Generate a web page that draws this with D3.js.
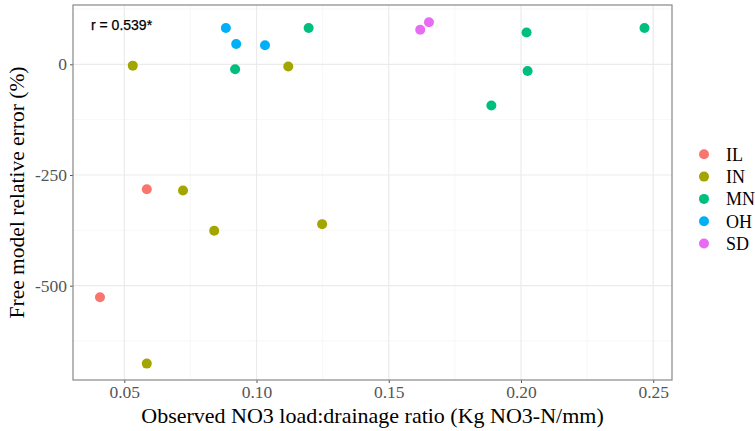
<!DOCTYPE html>
<html><head><meta charset="utf-8">
<script src="https://cdn.jsdelivr.net/npm/d3@7"></script>
<style>body{margin:0;background:#fff}</style>
</head><body><svg id="c" width="755" height="431"></svg>
<script>
const states = ["IL","IN","MN","OH","SD"];
const colors = ["#F8766D","#A3A500","#00BF7D","#00B0F6","#E76BF3"];
const ptState = ["IL","IL","IN","IN","IN","IN","IN","IN","OH","OH","OH","MN","MN","MN","MN","MN","MN","SD","SD"];
const ptX = [0.0408,0.0585,0.0532,0.0722,0.112,0.084,0.1248,0.0585,0.0884,0.0923,0.1032,0.0919,0.1197,0.2021,0.2025,0.1888,0.2467,0.1619,0.1652];
const ptY = [-526,-282,-3,-285,-5,-376,-361,-676,82,46,43,-11,82,72,-15,-93,82,78,95];
const xTicks = [0.05,0.10,0.15,0.20,0.25];
const yTicks = [0,-250,-500];
const xMinor = [0.075,0.125,0.175,0.225];
const yMinor = [125,-125,-375,-625];
const annotation = "r = 0.539*";

const L=73,R=672,T=5,B=380;
const svg=d3.select("#c");
const x=d3.scaleLinear().domain([0.0306,0.2571]).range([L,R]);
const y=d3.scaleLinear().domain([-713,134]).range([B,T]);
const col=d3.scaleOrdinal().domain(states).range(colors);

svg.append("rect").attr("x",L).attr("y",T).attr("width",R-L).attr("height",B-T).attr("fill","#fff");
const g=svg.append("g");
g.selectAll(".xm").data(xMinor).join("line").attr("x1",d=>x(d)).attr("x2",d=>x(d)).attr("y1",T).attr("y2",B).attr("stroke","#F5F5F5").attr("stroke-width",0.8);
g.selectAll(".ym").data(yMinor).join("line").attr("y1",d=>y(d)).attr("y2",d=>y(d)).attr("x1",L).attr("x2",R).attr("stroke","#F5F5F5").attr("stroke-width",0.8);
g.selectAll(".xg").data(xTicks).join("line").attr("x1",d=>x(d)).attr("x2",d=>x(d)).attr("y1",T).attr("y2",B).attr("stroke","#EBEBEB").attr("stroke-width",1.2);
g.selectAll(".yg").data(yTicks).join("line").attr("y1",d=>y(d)).attr("y2",d=>y(d)).attr("x1",L).attr("x2",R).attr("stroke","#EBEBEB").attr("stroke-width",1.2);

const xa=svg.append("g").attr("transform",`translate(0,${B})`)
  .call(d3.axisBottom(x).tickValues(xTicks).tickFormat(d3.format(".2f")).tickSize(3).tickPadding(3));
const ya=svg.append("g").attr("transform",`translate(${L},0)`)
  .call(d3.axisLeft(y).tickValues(yTicks).tickFormat(d=>d).tickSize(3).tickPadding(3));
[xa,ya].forEach(a=>{a.select(".domain").remove();
  a.selectAll("line").attr("stroke","#555");
  a.selectAll("text").attr("fill","#555").attr("font-family","Liberation Serif").attr("font-size",17.5);});

svg.append("rect").attr("x",L).attr("y",T).attr("width",R-L).attr("height",B-T).attr("fill","none").attr("stroke","#888").attr("stroke-width",1.2);

const pts=ptX.map((v,i)=>({x:v,y:ptY[i],s:ptState[i]}));
svg.append("g").selectAll("circle").data(pts).join("circle")
  .attr("cx",d=>x(d.x)).attr("cy",d=>y(d.y)).attr("r",5).attr("fill",d=>col(d.s));

svg.append("text").attr("x",91).attr("y",30).attr("font-family","Liberation Sans").attr("font-size",14).attr("fill","#000").attr("stroke","#000").attr("stroke-width",0.25).text(annotation);

svg.append("text").attr("x",(L+R)/2).attr("y",423).attr("text-anchor","middle").attr("font-family","Liberation Serif").attr("font-size",22).attr("fill","#000").text("Observed NO3 load:drainage ratio (Kg NO3-N/mm)");
svg.append("text").attr("transform",`translate(24,${(T+B)/2}) rotate(-90)`).attr("text-anchor","middle").attr("font-family","Liberation Serif").attr("font-size",21.5).attr("fill","#000").text("Free model relative error (%)");

const lg=svg.append("g").selectAll("g").data(states).join("g").attr("transform",(d,i)=>`translate(704,${154.3+i*22.3})`);
lg.append("circle").attr("r",5).attr("fill",d=>col(d));
lg.append("text").attr("x",22).attr("dy","0.35em").attr("font-family","Liberation Serif").attr("font-size",18).attr("fill","#000").text(d=>d);
</script></body></html>
